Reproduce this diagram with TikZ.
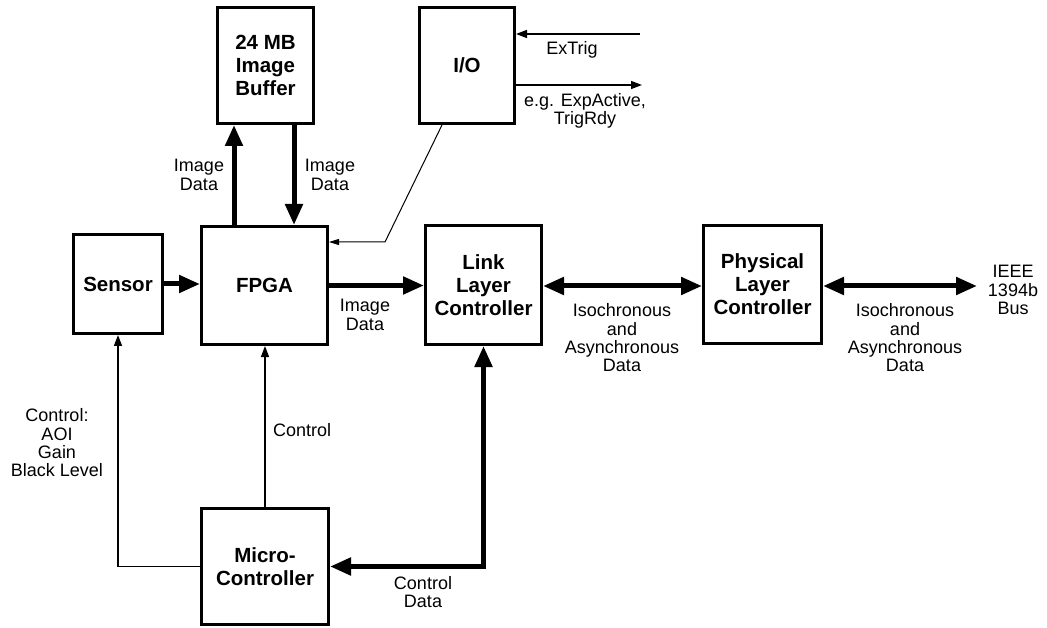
\documentclass[tikz,border=0pt]{standalone}
\usepackage{fontspec}
\setmainfont{Liberation Sans}
\usetikzlibrary{arrows.meta}
\begin{document}
\begin{tikzpicture}[x=1pt,y=-1pt,
  blk/.style={draw, line width=3pt, inner sep=0pt, align=center,
    font=\bfseries\fontsize{20.5}{23}\selectfont},
  lbl/.style={inner sep=0pt, align=center, font=\fontsize{18}{18.3}\selectfont},
  thick arrow/.style={line width=5pt, -{Triangle[length=21pt,width=17pt]}},
  thick both/.style={line width=5pt, {Triangle[length=21pt,width=17pt]}-{Triangle[length=21pt,width=17pt]}},
  thin arrow/.style={line width=1.5pt, -{Triangle[length=11pt,width=8pt]}},
  hair arrow/.style={line width=1pt, -{Triangle[length=10pt,width=6pt]}}]
\useasboundingbox (0,0) rectangle (1047,628);

% blocks
\node[blk, minimum width=96pt, minimum height=116pt] (buf) at (265.5,65.5) {24 MB\\Image\\Buffer};
\node[blk, minimum width=95pt, minimum height=116pt] (io) at (467,65.5) {I/O};
\node[blk, minimum width=89pt, minimum height=99pt] (sensor) at (118,284) {Sensor};
\node[blk, minimum width=126pt, minimum height=118pt] (fpga) at (264.5,285.5) {FPGA};
\node[blk, minimum width=116pt, minimum height=119pt] (link) at (483.5,285) {Link\\Layer\\Controller};
\node[blk, minimum width=118pt, minimum height=118pt] (phys) at (762.5,284.5) {Physical\\Layer\\Controller};
\node[blk, minimum width=127pt, minimum height=116pt] (micro) at (265,566.5) {Micro-\\Controller};

% coordinates for free ends / bends
\coordinate (busend) at (977,286);
\coordinate (iobend) at (385,242);
\coordinate (extrigstart) at (640,34);
\coordinate (outend) at (642,85);

% thick data paths
\draw[thick arrow] (sensor.east) -- (sensor.east -| fpga.west);
\draw[thick arrow] (fpga.east) -- (fpga.east -| link.west);
\draw[thick both] (link.east |- busend) -- (phys.west |- busend);
\draw[thick both] (phys.east |- busend) -- (busend);
\draw[thick arrow] ([xshift=-30.5pt]fpga.north) -- ([xshift=-30.5pt]fpga.north |- buf.south);
\draw[thick arrow] ([xshift=29.5pt]fpga.north |- buf.south) -- ([xshift=29.5pt]fpga.north);
\draw[thick both] (micro.east) -| (link.south);

% thin control paths
\draw[thin arrow] (micro.west) -| (sensor.south);
\draw[thin arrow] (micro.north) -- (micro.north |- fpga.south);
\draw[thin arrow] (extrigstart) -- (extrigstart -| io.east);
\draw[thin arrow] (io.east |- outend) -- (outend);
\draw[hair arrow] ([xshift=-25pt]io.south) -- (iobend) -- (iobend -| fpga.east);

% labels
\node[lbl] (l1) at (199,175) {Image\\Data};
\node[lbl] (l2) at (330,175) {Image\\Data};
\node[lbl] (l3) at (365,315) {Image\\Data};
\node[lbl] (l4) at (622,338) {Isochronous\\and\\Asynchronous\\Data};
\node[lbl] (l5) at (905,338) {Isochronous\\and\\Asynchronous\\Data};
\node[lbl] (l6) at (1013,290) {IEEE\\1394b\\Bus};
\node[lbl] (l7) at (572,50) {ExTrig};
\node[lbl] (l8) at (585,111) {e.g. ExpActive,\\TrigRdy};
\node[lbl] (l9) at (57,443) {Control:\\AOI\\Gain\\Black Level};
\node[lbl, anchor=west] (l10) at (273,430) {Control};
\node[lbl] (l11) at (423,592) {Control\\Data};
\end{tikzpicture}
\end{document}
